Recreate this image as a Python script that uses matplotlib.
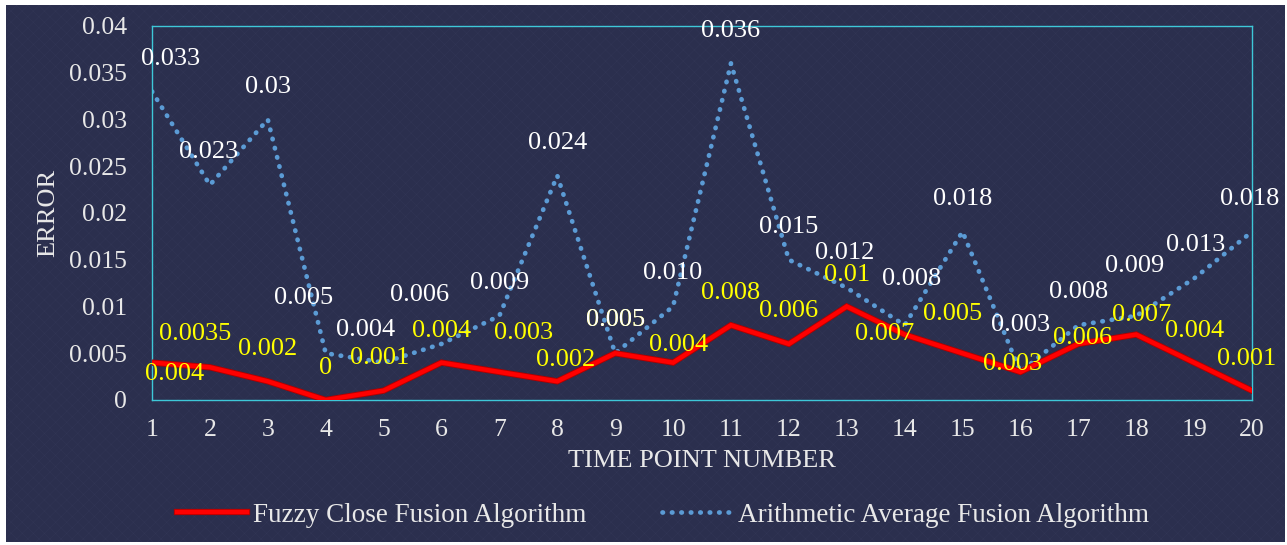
import matplotlib.pyplot as plt
import matplotlib.patheffects as pe
from matplotlib.patches import Rectangle

points = list(range(1, 21))
fuzzy = [0.004, 0.0035, 0.002, 0, 0.001, 0.004, 0.003, 0.002, 0.005, 0.004,
         0.008, 0.006, 0.01, 0.007, 0.005, 0.003, 0.006, 0.007, 0.004, 0.001]
arith = [0.033, 0.023, 0.03, 0.005, 0.004, 0.006, 0.009, 0.024, 0.005, 0.010,
         0.036, 0.015, 0.012, 0.008, 0.018, 0.003, 0.008, 0.009, 0.013, 0.018]
fuzzy_labels = ['0.004', '0.0035', '0.002', '0', '0.001', '0.004', '0.003', '0.002', '0.005', '0.004',
                '0.008', '0.006', '0.01', '0.007', '0.005', '0.003', '0.006', '0.007', '0.004', '0.001']
arith_labels = ['0.033', '0.023', '0.03', '0.005', '0.004', '0.006', '0.009', '0.024', '0.005', '0.010',
                '0.036', '0.015', '0.012', '0.008', '0.018', '0.003', '0.008', '0.009', '0.013', '0.018']

# label offsets in pixels (dx, dy), dy positive = up
fuzzy_off = [(23, -11), (-15, 33), (0, 32), (0, 32), (-4, 33), (0, 32), (24, 39), (8, 21), (0, 33), (6, 18),
             (0, 32), (0, 33), (0, 31), (-20, 1), (-10, 39), (-8, 8), (4, 6), (5, 20), (0, 32), (-5, 32)]
arith_off = [(19, 32), (-1, 33), (0, 32), (-22, 55), (-18, 33), (-22, 49), (0, 33), (0, 33), (0, 33), (0, 33),
             (0, 32), (0, 33), (-2, 35), (7, 46), (0, 33), (0, 47), (0, 33), (-2, 50), (2, 33), (-2, 33)]

plt.rcParams['font.family'] = ['Liberation Serif', 'DejaVu Serif']
plt.rcParams['hatch.linewidth'] = 0.3

bg = '#2b2f4e'
fig = plt.figure(figsize=(12.87, 5.45), dpi=100)
fig.patch.set_facecolor('white')
fig.patches.append(Rectangle((6 / 1287, 3 / 545), 1279 / 1287, 537 / 545, transform=fig.transFigure,
                             facecolor=bg, edgecolor='#323656', hatch='xxx', lw=0, zorder=-10))

ax = fig.add_axes([152 / 1287, 145 / 545, 1100 / 1287, 374 / 545])
ax.set_facecolor('none')

ax.plot(points, fuzzy, color='#ff0000', lw=3.2, solid_joinstyle='miter',
        path_effects=[pe.Stroke(linewidth=4.5, foreground='#b00000'), pe.Normal()],
        label='Fuzzy Close Fusion Algorithm', zorder=3)
ax.plot(points, arith, color='#5b9bd5', lw=3.4, linestyle=(0, (0.1, 1.9)), dash_capstyle='round',
        label='Arithmetic Average Fusion Algorithm', zorder=2)

for x, y, t, (dx, dy) in zip(points, fuzzy, fuzzy_labels, fuzzy_off):
    ax.annotate(t, (x, y), xytext=(dx, dy), textcoords='offset pixels', ha='center', va='center',
                color='#ffff00', fontsize=19, zorder=4, annotation_clip=False)
for x, y, t, (dx, dy) in zip(points, arith, arith_labels, arith_off):
    ax.annotate(t, (x, y), xytext=(dx, dy), textcoords='offset pixels', ha='center', va='center',
                color='white', fontsize=19, zorder=5, annotation_clip=False)

ax.set_xlim(1, 20)
ax.set_ylim(0, 0.04)
ax.set_xticks(points)
yt = [0, 0.005, 0.01, 0.015, 0.02, 0.025, 0.03, 0.035, 0.04]
ax.set_yticks(yt)
ax.set_yticklabels(['0', '0.005', '0.01', '0.015', '0.02', '0.025', '0.03', '0.035', '0.04'])
ax.tick_params(length=0, colors='#e8e8e8', labelsize=18.5)
ax.tick_params(axis='y', pad=18)
ax.tick_params(axis='x', pad=14)
for s in ax.spines.values():
    s.set_color('#3ec8d8')
    s.set_linewidth(1)

ax.set_xlabel('TIME POINT NUMBER', fontsize=19, color='#e8e8e8', labelpad=6)
ax.set_ylabel('ERROR', fontsize=19, color='#e8e8e8', labelpad=7)

leg = fig.legend(loc='center', bbox_to_anchor=(0.515, 0.055), ncol=2, frameon=False,
                 fontsize=19.5, handlelength=2.6, handletextpad=0.2, columnspacing=2.8)
for t in leg.get_texts():
    t.set_color('#e8e8e8')

plt.savefig('out.png', dpi=100, facecolor=fig.get_facecolor())
